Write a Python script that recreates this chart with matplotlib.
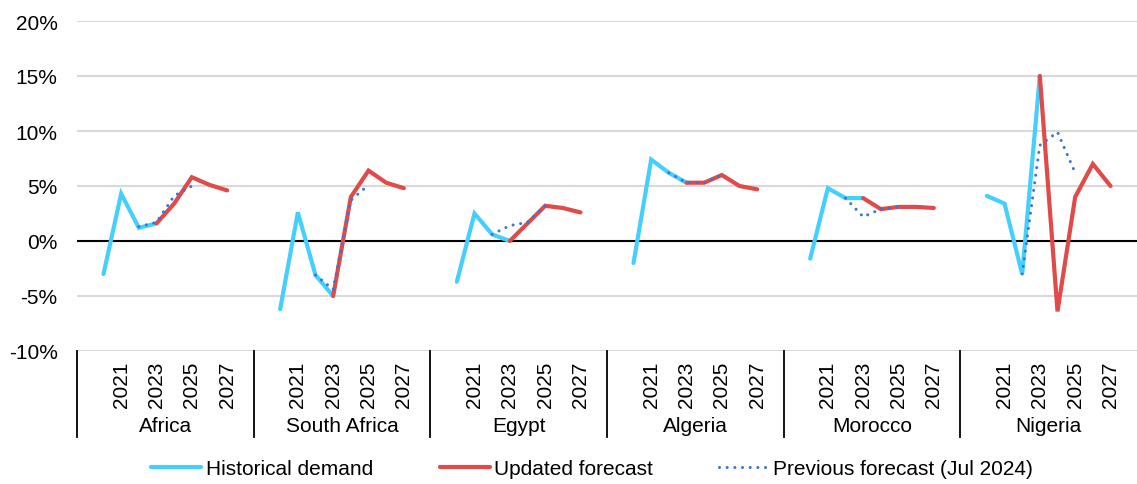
import numpy as np
import matplotlib
matplotlib.use("Agg")
import matplotlib.pyplot as plt
from matplotlib.lines import Line2D

plt.rcParams["font.family"] = ["Liberation Sans", "DejaVu Sans"]

# Electricity demand growth, year on year (%)
countries = ["Africa", "South Africa", "Egypt", "Algeria", "Morocco", "Nigeria"]
years = [2020, 2021, 2022, 2023, 2024, 2025, 2026, 2027]
tick_years = [2021, 2023, 2025, 2027]

hist_years = [2020, 2021, 2022, 2023]
historical = {
    "Africa":       [-3.0, 4.3, 1.2, 1.6],
    "South Africa": [-6.2, 2.6, -3.1, -5.0],
    "Egypt":        [-3.7, 2.5, 0.6, 0.0],
    "Algeria":      [-2.0, 7.4, 6.2, 5.3],
    "Morocco":      [-1.6, 4.8, 3.9, 3.9],
    "Nigeria":      [4.1, 3.4, -3.0, 15.0],
}

upd_years = [2023, 2024, 2025, 2026, 2027]
updated = {
    "Africa":       [1.6, 3.4, 5.8, 5.1, 4.6],
    "South Africa": [-5.0, 4.0, 6.4, 5.3, 4.8],
    "Egypt":        [0.0, 1.6, 3.2, 3.0, 2.6],
    "Algeria":      [5.3, 5.3, 6.0, 5.0, 4.7],
    "Morocco":      [3.9, 2.9, 3.1, 3.1, 3.0],
    "Nigeria":      [15.0, -6.4, 4.0, 7.0, 5.0],
}

prev_years = [2022, 2023, 2024, 2025]
previous = {
    "Africa":       [1.3, 1.7, 4.1, 5.0],
    "South Africa": [-3.1, -4.4, 3.7, 5.1],
    "Egypt":        [0.6, 1.4, 1.7, 3.2],
    "Algeria":      [6.2, 5.3, 5.3, 6.0],
    "Morocco":      [3.9, 2.2, 2.9, 3.1],
    "Nigeria":      [-3.0, 8.7, 9.9, 6.2],
}

C_HIST = "#45CFFF"
C_UPD = "#E04A48"
C_PREV = "#3A74D8"

SLOTS = 10          # category slots per country block (2019..2028)
FIRST_YEAR = 2019
FS = 15


def xpos(g, yrs):
    return np.array([g * SLOTS + (y - FIRST_YEAR) + 0.5 for y in yrs])


W, H = 1137, 485
fig = plt.figure(figsize=(W / 100, H / 100), dpi=100)
ax_left, ax_right, ax_top, ax_bot = 77, 1137, 22, 352
ax = fig.add_axes([ax_left / W, (H - ax_bot) / H,
                   (ax_right - ax_left) / W, (ax_bot - ax_top) / H])

lw = 3.0
dots = (0, (0.01, 2.5))
for g, c in enumerate(countries):
    ax.plot(xpos(g, hist_years), historical[c], color=C_HIST, lw=lw,
            solid_capstyle="round", solid_joinstyle="miter", zorder=3)
    ax.plot(xpos(g, upd_years), updated[c], color=C_UPD, lw=lw,
            solid_capstyle="round", solid_joinstyle="miter", zorder=4)
    ax.plot(xpos(g, prev_years), previous[c], color=C_PREV, lw=2.2,
            linestyle=dots, dash_capstyle="round", zorder=5)

ax.set_xlim(0, SLOTS * len(countries))
ax.set_ylim(-10, 20)
ax.set_yticks(np.arange(-10, 21, 5))
ax.set_yticklabels([f"{v}%" for v in range(-10, 21, 5)])
ax.yaxis.grid(True, color="#D9D9D9", lw=1.5)
ax.set_axisbelow(True)
ax.axhline(0, color="black", lw=1.5, zorder=2)
for s in ax.spines.values():
    s.set_visible(False)
ax.tick_params(axis="y", length=0, pad=14, labelsize=FS, labelcolor="black")

tick_pos = np.concatenate([xpos(g, tick_years) for g in range(len(countries))])
ax.set_xticks(tick_pos)
ax.set_xticklabels([str(y) for _ in countries for y in tick_years],
                   rotation=90, fontsize=FS)
ax.tick_params(axis="x", length=0, pad=7)

# block separators and country names under the axis
axh = ax_bot - ax_top
sep_bottom = -(438 - ax_bot) / axh
name_y = -(427 - ax_bot) / axh
trans = ax.get_xaxis_transform()
for g in range(len(countries)):
    ax.plot([g * SLOTS, g * SLOTS], [0, sep_bottom], color="black", lw=1.3,
            transform=trans, clip_on=False)
    ax.text(g * SLOTS + SLOTS / 2, name_y, countries[g], transform=trans,
            ha="center", va="center", fontsize=FS)

handles = [
    Line2D([], [], color=C_HIST, lw=lw, solid_capstyle="round"),
    Line2D([], [], color=C_UPD, lw=lw, solid_capstyle="round"),
    Line2D([], [], color=C_PREV, lw=2.2, linestyle=dots,
           dash_capstyle="round"),
]
labels = ["Historical demand", "Updated forecast", "Previous forecast (Jul 2024)"]
fig.legend(handles, labels, loc="center", bbox_to_anchor=(0.521, 15 / H),
           ncol=3, frameon=False, fontsize=FS, handlelength=2.4,
           handletextpad=0.2, columnspacing=3.2)

fig.savefig("out.png", dpi=100)
